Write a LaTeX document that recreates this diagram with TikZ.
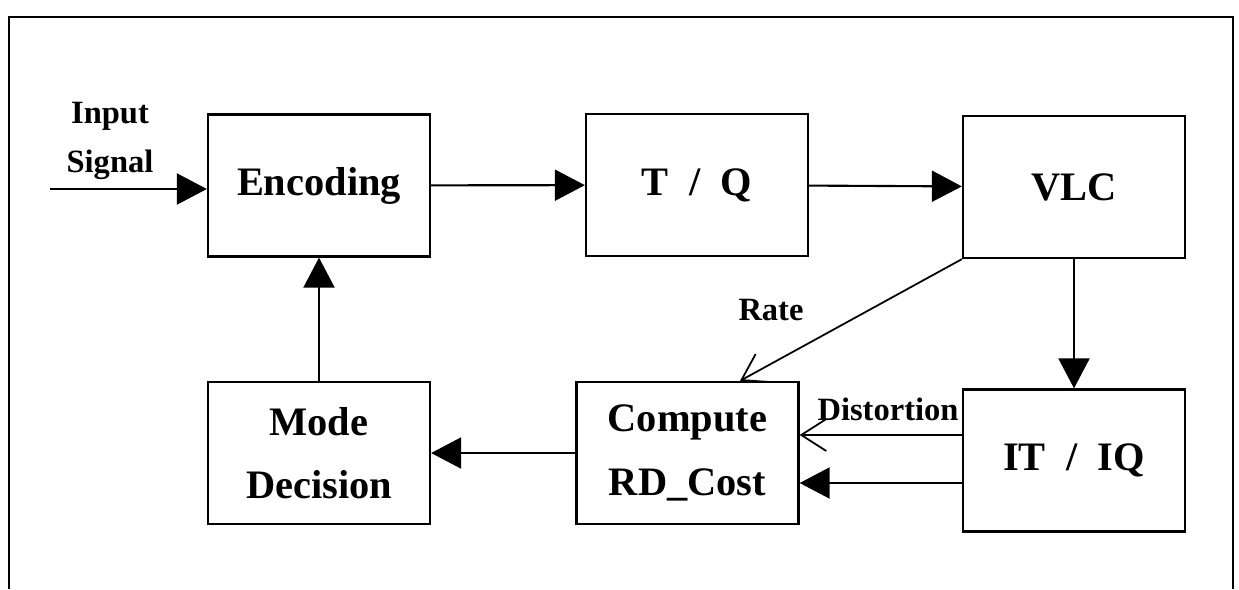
\documentclass[tikz,border=0pt]{standalone}
\usepackage{fontspec}
\setmainfont{Liberation Serif}
\usepackage{xcolor}
\usepackage{tikz}
\usetikzlibrary{arrows.meta}

\begin{document}
\begin{tikzpicture}[
  block/.style={draw, line width=1.3pt, minimum width=4.44cm, minimum height=2.84cm,
    align=center, font=\fontsize{23}{36}\selectfont\bfseries},
  lbl/.style={align=center, font=\fontsize{18.5}{28}\selectfont\bfseries},
  flow/.style={line width=1.2pt, -{Triangle[length=0.6cm,width=0.62cm]}},
  openflow/.style={line width=1pt, -{Straight Barb[length=0.5cm,width=0.64cm]}}
]
\useasboundingbox (0,0) rectangle (24.78,-11.78);
\draw[line width=1.4pt] (0.18,-11.78) |- (24.66,-0.34) -- (24.66,-11.78);

\node[block] (enc) at (6.38,-3.71) {Encoding};
\node[block] (tq) at (13.94,-3.70) {T \ / \ Q};
\node[block] (vlc) at (21.48,-3.74) {VLC};
\node[block] (itiq) at (21.48,-9.21) {IT \ / \ IQ};
\node[block] (rdc) at (13.75,-9.06) {Compute\\RD\_Cost};
\node[block] (mode) at (6.38,-9.06) {Mode\\Decision};

\node[lbl] (input) at (2.2,-2.82) {Input\\Signal};
\node[lbl] (rate) at (15.42,-6.20) {Rate};
\node[lbl] (dist) at (17.76,-8.18) {Distortion};

\coordinate (src) at (1.0,-3.78);
\draw[flow] (src) -- (src -| enc.west);
\draw[flow] (enc) -- (tq);
\draw[flow] (tq) -- (vlc);
\draw[flow] (vlc) -- (itiq);
\draw[openflow] (vlc.south west) -- ([xshift=1.05cm]rdc.north);
\draw[openflow] ([yshift=0.51cm]itiq.west) -- ([yshift=0.51cm]itiq.west -| rdc.east);
\draw[flow] ([yshift=-0.45cm]itiq.west) -- ([yshift=-0.45cm]itiq.west -| rdc.east);
\draw[flow] (rdc) -- (mode);
\draw[flow] (mode) -- (enc);

\end{tikzpicture}
\end{document}
